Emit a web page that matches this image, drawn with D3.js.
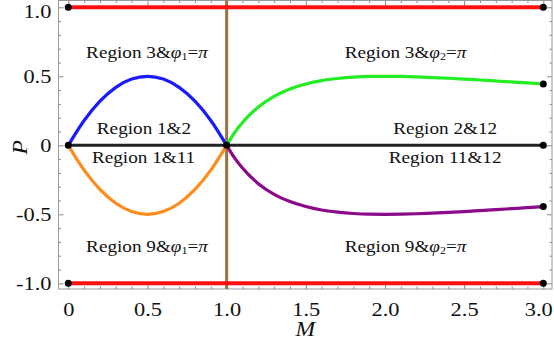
<!DOCTYPE html>
<html>
<head>
<meta charset="utf-8">
<script src="https://cdn.jsdelivr.net/npm/d3@7"></script>
<style>
  html, body { margin: 0; padding: 0; background: #fff; }
  svg { display: block; }
  text { font-family: "Liberation Serif", "Times New Roman", serif; fill: #111; }
</style>
</head>
<body>
<svg id="chart" width="554" height="349"></svg>
<script>
// Branch P(M) below M = 1 (Region 3 / Region 9 boundaries)
const mLow = [0, 0.1, 0.2, 0.3, 0.4, 0.5, 0.6, 0.7, 0.8, 0.9, 1.0];
const pBlue = [0, 0.18, 0.32, 0.42, 0.48, 0.5, 0.48, 0.42, 0.32, 0.18, 0];
const pOrange = [0, -0.18, -0.32, -0.42, -0.48, -0.5, -0.48, -0.42, -0.32, -0.18, 0];

// Branch P(M) above M = 1
const mHigh = [1.0, 1.05, 1.1, 1.2, 1.3, 1.4, 1.5, 1.6, 1.7, 1.8, 1.9, 2.0,
               2.1, 2.2, 2.3, 2.4, 2.5, 2.6, 2.7, 2.8, 2.9, 3.0];
const pGreen = [0, 0.091, 0.165, 0.278, 0.355, 0.408, 0.444, 0.469, 0.484, 0.494, 0.499, 0.5,
                0.499, 0.496, 0.491, 0.486, 0.48, 0.473, 0.466, 0.459, 0.452, 0.444];
const pPurple = [0, -0.091, -0.165, -0.278, -0.355, -0.408, -0.444, -0.469, -0.484, -0.494, -0.499, -0.5,
                 -0.499, -0.496, -0.491, -0.486, -0.48, -0.473, -0.466, -0.459, -0.452, -0.444];

// Straight boundaries
const mSpan = [0, 3];
const pTop = 1, pBottom = -1, pZero = 0;
const mCritical = 1;

// Tick values
const xMajor = [0, 0.5, 1.0, 1.5, 2.0, 2.5, 3.0];
const yMajor = [-1.0, -0.5, 0, 0.5, 1.0];

// Region annotations
const regionM = [0.497, 0.478, 0.475, 0.497, 2.13, 2.38, 2.38, 2.13];
const regionP = [0.669, 0.117, -0.093, -0.738, 0.669, 0.117, -0.093, -0.738];
const regionText = ["Region 3&", "Region 1&2", "Region 1&11", "Region 9&",
                    "Region 3&", "Region 2&12", "Region 11&12", "Region 9&"];
const regionPhi = ["1", null, null, "1", "2", null, null, "2"];

const svg = d3.select("#chart");
const x = d3.scaleLinear().domain([0, 3]).range([68.3, 543.3]);
const y = d3.scaleLinear().domain([-1, 1]).range([283.3, 7.3]);

const frame = { left: 58.5, right: 552, top: 0.5, bottom: 289 };
const stretch = 1.18;

// Ticks (major and minor) on all four sides, pointing inward
const minorX = d3.range(0, 31).map(i => i / 10).filter(v => !xMajor.some(t => Math.abs(t - v) < 1e-9));
const minorY = d3.range(-10, 11).map(i => i / 10).filter(v => !yMajor.some(t => Math.abs(t - v) < 1e-9));
const fmt = d => d === 0 ? "0" : (d < 0 ? "-" : "") + Math.abs(d).toFixed(1);

function styleAxis(g) {
  g.select(".domain").remove();
  g.selectAll("line").attr("stroke", "#888").attr("stroke-width", 1);
}

const bottom = svg.append("g").attr("transform", `translate(0,${frame.bottom})`)
  .call(d3.axisBottom(x).tickValues(xMajor).tickSize(-5).tickPadding(14).tickFormat(fmt));
bottom.call(styleAxis);
// the last label is pulled in so it stays inside the canvas
bottom.selectAll("text").attr("font-size", 19).attr("font-family", "Liberation Serif")
  .attr("fill", "#111")
  .attr("transform", d => `translate(${d === 3 ? -5 : 0},0) scale(${stretch},1)`);
svg.append("g").attr("transform", `translate(0,${frame.bottom})`)
  .call(d3.axisBottom(x).tickValues(minorX).tickSize(-2.5).tickFormat(""))
  .call(styleAxis);

const left = svg.append("g").attr("transform", `translate(${frame.left},0)`)
  .call(d3.axisLeft(y).tickValues(yMajor).tickSize(-5).tickPadding(6).tickFormat(fmt));
left.call(styleAxis);
// the top label is pushed down so it stays inside the canvas
left.selectAll("text").attr("font-size", 19).attr("font-family", "Liberation Serif")
  .attr("fill", "#111")
  .attr("transform", d => `translate(0,${d === 1 ? 4 : 0}) scale(${stretch},1)`);
svg.append("g").attr("transform", `translate(${frame.left},0)`)
  .call(d3.axisLeft(y).tickValues(minorY).tickSize(-2.5).tickFormat(""))
  .call(styleAxis);

svg.append("g").attr("transform", `translate(0,${frame.top})`)
  .call(d3.axisTop(x).tickValues(xMajor).tickSize(-5).tickFormat(""))
  .call(styleAxis);
svg.append("g").attr("transform", `translate(0,${frame.top})`)
  .call(d3.axisTop(x).tickValues(minorX).tickSize(-2.5).tickFormat(""))
  .call(styleAxis);
svg.append("g").attr("transform", `translate(${frame.right},0)`)
  .call(d3.axisRight(y).tickValues(yMajor).tickSize(-5).tickFormat(""))
  .call(styleAxis);
svg.append("g").attr("transform", `translate(${frame.right},0)`)
  .call(d3.axisRight(y).tickValues(minorY).tickSize(-2.5).tickFormat(""))
  .call(styleAxis);

// Plot frame
svg.append("rect")
  .attr("x", frame.left).attr("y", frame.top)
  .attr("width", frame.right - frame.left).attr("height", frame.bottom - frame.top)
  .attr("fill", "none").attr("stroke", "#999").attr("stroke-width", 1);

// Vertical line at the critical M
svg.append("line")
  .attr("x1", x(mCritical)).attr("x2", x(mCritical))
  .attr("y1", frame.top).attr("y2", frame.bottom)
  .attr("stroke", "#a0703c").attr("stroke-width", 3);

// Horizontal limits P = ±1
[pTop, pBottom].forEach(p => {
  svg.append("line")
    .attr("x1", x(mSpan[0])).attr("x2", x(mSpan[1]))
    .attr("y1", y(p)).attr("y2", y(p))
    .attr("stroke", "#ff1010").attr("stroke-width", 4);
});

// Curved boundaries
const line = d3.line().x(d => x(d[0])).y(d => y(d[1])).curve(d3.curveMonotoneX);
const curves = [
  [mLow, pBlue, "#1a1aff"],
  [mLow, pOrange, "#ff8c1a"],
  [mHigh, pGreen, "#22ee22"],
  [mHigh, pPurple, "#8a0a8a"]
];
curves.forEach(([ms, ps, color]) => {
  svg.append("path")
    .datum(ms.map((m, i) => [m, ps[i]]))
    .attr("d", line)
    .attr("fill", "none")
    .attr("stroke", color)
    .attr("stroke-width", 3.2)
    .attr("stroke-linecap", "round");
});

// P = 0 line
svg.append("line")
  .attr("x1", x(mSpan[0])).attr("x2", x(mSpan[1]))
  .attr("y1", y(pZero)).attr("y2", y(pZero))
  .attr("stroke", "#222").attr("stroke-width", 3);

// End points
const dots = [
  [mSpan[0], pTop], [mSpan[1], pTop], [mSpan[0], pBottom], [mSpan[1], pBottom],
  [mSpan[0], pZero], [mCritical, pZero], [mSpan[1], pZero],
  [mHigh[mHigh.length - 1], pGreen[pGreen.length - 1]],
  [mHigh[mHigh.length - 1], pPurple[pPurple.length - 1]]
];
svg.append("g").selectAll("circle").data(dots).join("circle")
  .attr("cx", d => x(d[0])).attr("cy", d => y(d[1]))
  .attr("r", 3.5).attr("fill", "#000");

// Region labels
regionText.forEach((txt, i) => {
  const t = svg.append("text")
    .attr("transform", `translate(${x(regionM[i])},${y(regionP[i]) + 5}) scale(1.2,1)`)
    .attr("text-anchor", "middle")
    .attr("font-size", 16);
  t.append("tspan").text(txt);
  if (regionPhi[i]) {
    t.append("tspan").attr("font-style", "italic").text("φ");
    t.append("tspan").attr("font-size", 10).attr("dy", 2).text(regionPhi[i]);
    t.append("tspan").attr("dy", -2).text("=");
    t.append("tspan").attr("font-style", "italic").text("π");
  }
});

// Axis titles
svg.append("text")
  .attr("transform", `translate(${(frame.left + frame.right) / 2},336) scale(1.18,1)`)
  .attr("text-anchor", "middle").attr("font-size", 20).attr("font-style", "italic")
  .text("M");
svg.append("text")
  .attr("transform", `translate(27,${y(0) + 2}) rotate(-90) scale(1.18,1)`)
  .attr("text-anchor", "middle").attr("font-size", 20).attr("font-style", "italic")
  .text("P");
</script>
</body>
</html>
